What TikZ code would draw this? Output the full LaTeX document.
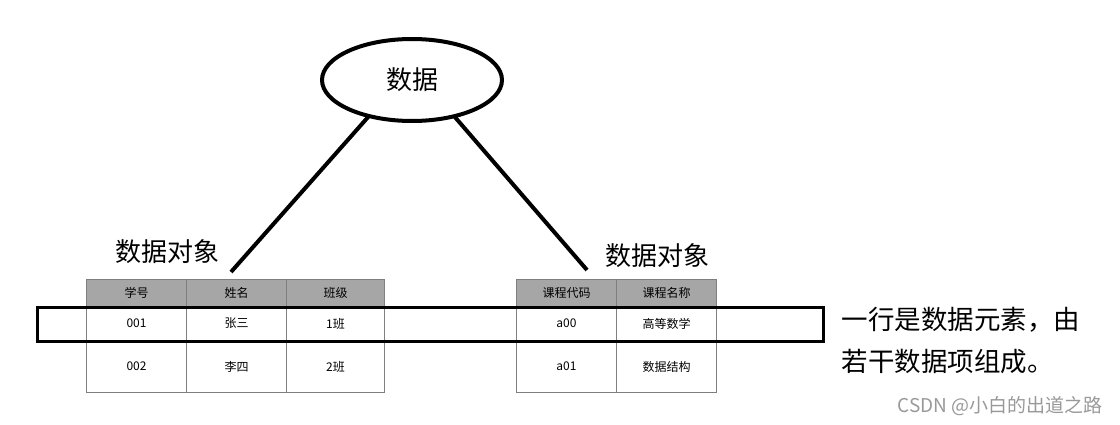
\documentclass[tikz,border=0pt]{standalone}
\usepackage{fontspec}
\setmainfont{Noto Sans CJK SC}
\usetikzlibrary{shapes.geometric}
\definecolor{hdr}{HTML}{A6A6A6}
\definecolor{grid}{HTML}{7F7F7F}
\tikzset{
  cell/.style={draw=grid, line width=1pt, minimum height=#1, inner sep=0pt, anchor=north west, font=\fontsize{12}{14}\selectfont},
  hcell/.style={cell=27pt, fill=hdr},
  big/.style={font=\fontsize{26}{30}\selectfont},
  thick line/.style={line width=4pt}
}
\begin{document}
\begin{tikzpicture}[x=1pt,y=-1pt]
\useasboundingbox (0,0) rectangle (1120,425);
% ellipse
\node[ellipse, draw, line width=4pt, minimum width=180pt, minimum height=82pt, font=\fontsize{26}{28}\selectfont] (data) at (412,80) {数据};
% labels
\node[big] (lobj) at (167,252) {数据对象};
\node[big] (robj) at (657,256) {数据对象};
\coordinate (ls) at (369,116);
\coordinate (rs) at (454,116);
\coordinate (lend) at (231,272);
\coordinate (rend) at (587,270);
\draw[thick line] (ls) -- (lend);
\draw[thick line] (rs) -- (rend);
% left table
\foreach \x/\w/\t in {86/100/学号,186/100/姓名,286/98/班级}
  \node[hcell, minimum width=\w] at (\x,279) {\t};
\foreach \x/\w/\t in {86/100/001,186/100/张三,286/98/1班}
  \node[cell=34pt, minimum width=\w] at (\x,306) {\t};
\foreach \x/\w/\t in {86/100/002,186/100/李四,286/98/2班}
  \node[cell=52pt, minimum width=\w] at (\x,340) {\t};
% right table
\foreach \x/\t in {516/课程代码,616/课程名称}
  \node[hcell, minimum width=100] at (\x,279) {\t};
\foreach \x/\t in {516/a00,616/高等数学}
  \node[cell=34pt, minimum width=100] at (\x,306) {\t};
\foreach \x/\t in {516/a01,616/数据结构}
  \node[cell=52pt, minimum width=100] at (\x,340) {\t};
% highlight row
\node[draw, line width=3pt, minimum width=786pt, minimum height=34pt, inner sep=0pt, anchor=north west] (row) at (36,306) {};
% note
\node[anchor=west, font=\fontsize{26.5}{42}\selectfont, align=left] (note) at (838,341) {一行是数据元素，由\\若干数据项组成。};
% watermark
\node[anchor=east, text=black!40, font=\fontsize{19}{21}\selectfont] (wm) at (1106,406) {CSDN @小白的出道之路};
\end{tikzpicture}
\end{document}
